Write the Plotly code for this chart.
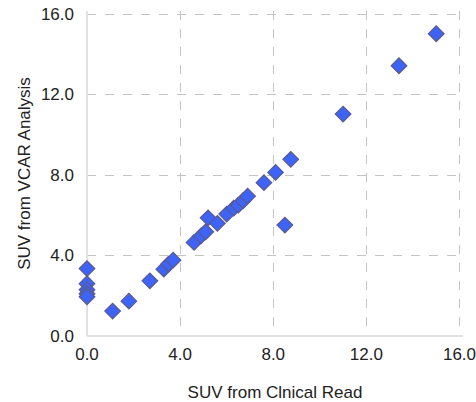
import plotly.graph_objects as go

clinical = [0.0, 0.0, 0.0, 0.0, 0.0, 1.1, 1.8, 2.7, 3.3, 3.5, 3.7, 4.6, 4.9, 5.1, 5.2, 5.6, 6.0, 6.3, 6.5, 6.7, 6.9, 7.6, 8.1, 8.5, 8.75, 11.0, 13.4, 15.0]
vcar =     [3.35, 2.6, 2.3, 2.1, 1.95, 1.24, 1.73, 2.74, 3.32, 3.57, 3.77, 4.65, 4.98, 5.18, 5.87, 5.6, 6.06, 6.35, 6.5, 6.72, 6.95, 7.62, 8.13, 5.51, 8.78, 11.03, 13.43, 15.02]
tick_vals = [0, 4, 8, 12, 16]
tick_text = ["0.0", "4.0", "8.0", "12.0", "16.0"]

FONT = "Liberation Sans, Arial"

fig = go.Figure(go.Scatter(
    x=clinical, y=vcar, mode="markers", cliponaxis=False,
    marker=dict(symbol="diamond", size=12, color="#3d63f7",
                line=dict(color="#5c5a8c", width=1.2)),
))

axis_common = dict(
    tickvals=tick_vals, ticktext=tick_text, automargin=False,
    showgrid=True, gridcolor="#c4c4c4", griddash="dash", gridwidth=1,
    zeroline=True, zerolinecolor="#e2e2e2", zerolinewidth=1.5,
    showline=False, ticks="", ticklabeloverflow="allow",
    tickfont=dict(family=FONT, size=17, color="#222222"),
)

fig.update_layout(
    width=476, height=402,
    margin=dict(l=87, r=13, t=11, b=66),
    paper_bgcolor="white", plot_bgcolor="white",
    showlegend=False,
    xaxis=dict(**axis_common, range=[0, 16.15], ticklabelstandoff=6,
               title=dict(text="SUV from Clnical Read", standoff=24,
                          font=dict(family=FONT, size=17, color="#222222"))),
    yaxis=dict(**axis_common, range=[0, 16.15], ticklabelstandoff=12,
               title=dict(text="SUV from VCAR Analysis", standoff=5,
                          font=dict(family=FONT, size=17, color="#222222"))),
)
fig.write_html("out.html", config={"displayModeBar": False},
               post_script="document.body.style.margin='0';")
